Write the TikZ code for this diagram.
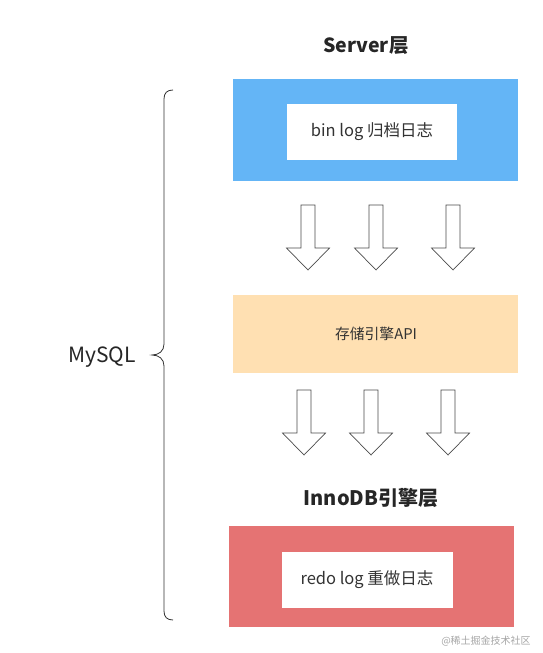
\documentclass[tikz,border=0pt]{standalone}
\usepackage{fontspec}
\setmainfont{Noto Sans CJK SC}
\begin{document}
\begin{tikzpicture}[x=1pt,y=-1pt,
  txt/.style={text=black!80, inner sep=0pt, font=\fontsize{16.5}{19}\selectfont},
  apitxt/.style={text=black!80, inner sep=0pt, font=\fontsize{14.8}{18}\selectfont},
  title/.style={text=black!85, inner sep=0pt, font=\fontsize{19.5}{23}\selectfont\bfseries},
  sidelabel/.style={text=black!85, inner sep=0pt, font=\fontsize{21}{25}\selectfont},
  watermark/.style={inner sep=0pt, text=black!35, font=\fontsize{10}{12}\selectfont},
  blockarrow/.pic={
    \draw[black!70, fill=white, line width=0.7pt, line join=miter]
      (-7,0) -- (7,0) -- (7,43) -- (21.5,43) -- (0,65) -- (-21.5,43) -- (-7,43) -- cycle;
  }]
\useasboundingbox (0,0) rectangle (543,653);
\fill[white] (0,0) rectangle (543,653);

% titles
\node[title] (server) at (366,46) {Server层};
\node[title, font=\fontsize{20}{24}\selectfont\bfseries] (innodb) at (371,498) {InnoDB引擎层};

% server layer
\fill[fill={rgb,255:red,100;green,181;blue,246}] (233,79) rectangle (518,181);
\fill[white] (287,104) rectangle (457,160);
\node[txt] (binlog) at (372,132) {bin log 归档日志};

% arrows row 1
\pic at (308,205) {blockarrow};
\pic at (376,205) {blockarrow};
\pic at (453,205) {blockarrow};

% api layer
\fill[fill={rgb,255:red,255;green,224;blue,178}] (233,295) rectangle (518,373);
\node[apitxt] (api) at (376,334) {存储引擎API};

% arrows row 2
\pic at (304,390) {blockarrow};
\pic at (371,390) {blockarrow};
\pic at (448,390) {blockarrow};

% innodb layer
\fill[fill={rgb,255:red,229;green,115;blue,115}] (229,526) rectangle (514,627);
\fill[white] (282,552) rectangle (453,608);
\node[txt] (redolog) at (367,580) {redo log 重做日志};

% brace
\draw[black!80, line width=0.8pt]
  (173,90) .. controls (167,90) and (164,93) .. (164,99) -- (164,344)
  .. controls (164,351) and (159,355) .. (152,355)
  .. controls (159,355) and (164,359) .. (164,366) -- (164,611)
  .. controls (164,617) and (167,620) .. (173,620);
\node[sidelabel] (mysql) at (102,357) {MySQL};

% watermark
\node[watermark] (wm) at (486,641) {@稀土掘金技术社区};
\end{tikzpicture}
\end{document}
